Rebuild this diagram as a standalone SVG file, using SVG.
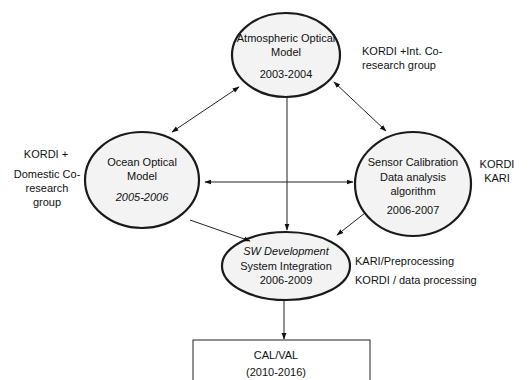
<svg xmlns="http://www.w3.org/2000/svg" width="530" height="380" viewBox="0 0 530 380">
<style>
text{font-family:"Liberation Sans",Arial,sans-serif;font-size:11px;fill:#111;text-anchor:middle}
.lbl{text-anchor:start}
.node ellipse{fill:#f3f3f3;stroke:#1a1a1a;stroke-width:2.2}
.edge{stroke:#222;stroke-width:1;fill:none}
</style>
<defs>
<marker id="ah" viewBox="0 0 10 10" refX="9" refY="5" markerWidth="7" markerHeight="7" orient="auto-start-reverse">
<path d="M0,1.5 L10,5 L0,8.5 Z" fill="#111"/>
</marker>
</defs>
<rect width="530" height="380" fill="#fff"/>
<g id="atmo" class="node">
<ellipse cx="286" cy="55" rx="54" ry="42"/>
<text x="286" y="42">Atmospheric Optical</text>
<text x="286" y="56">Model</text>
<text x="286" y="78">2003-2004</text>
</g>
<g id="ocean" class="node">
<ellipse cx="142" cy="180" rx="57" ry="48"/>
<text x="142" y="166">Ocean Optical</text>
<text x="142" y="180">Model</text>
<text x="142" y="201" font-style="italic">2005-2006</text>
</g>
<g id="sensor" class="node">
<ellipse cx="413" cy="184" rx="58" ry="52"/>
<text x="413" y="166">Sensor Calibration</text>
<text x="413" y="181">Data analysis</text>
<text x="413" y="195">algorithm</text>
<text x="413" y="214">2006-2007</text>
</g>
<g id="sw" class="node">
<ellipse cx="286" cy="266" rx="64" ry="34"/>
<text x="286" y="255" font-style="italic">SW Development</text>
<text x="286" y="270">System Integration</text>
<text x="286" y="284">2006-2009</text>
</g>
<g id="calval" class="node">
<rect x="193" y="340" width="177" height="45" fill="#fff" stroke="#222" stroke-width="1"/>
<text x="276" y="359">CAL/VAL</text>
<text x="276" y="376">(2010-2016)</text>
</g>
<g id="connectors">
<line class="edge" x1="239" y1="87" x2="172" y2="132" marker-start="url(#ah)" marker-end="url(#ah)"/>
<line class="edge" x1="334" y1="82" x2="386" y2="131" marker-start="url(#ah)" marker-end="url(#ah)"/>
<line class="edge" x1="287" y1="97" x2="287" y2="230" marker-end="url(#ah)"/>
<line class="edge" x1="205" y1="182" x2="353" y2="182" marker-start="url(#ah)" marker-end="url(#ah)"/>
<line class="edge" x1="190" y1="220" x2="250" y2="241" marker-end="url(#ah)"/>
<line class="edge" x1="365" y1="213" x2="337" y2="235" marker-end="url(#ah)"/>
<line class="edge" x1="284" y1="301" x2="284" y2="339" marker-end="url(#ah)"/>
</g>
<g id="labels">
<text class="lbl" x="362" y="55">KORDI +Int. Co-</text>
<text class="lbl" x="362" y="69">research group</text>
<text x="497" y="168">KORDI</text>
<text x="497" y="182">KARI</text>
<text x="46" y="158">KORDI +</text>
<text x="47" y="178">Domestic Co-</text>
<text x="47" y="192">research</text>
<text x="47" y="206">group</text>
<text class="lbl" x="355" y="265">KARI/Preprocessing</text>
<text class="lbl" x="355" y="284">KORDI / data processing</text>
</g>
</svg>
